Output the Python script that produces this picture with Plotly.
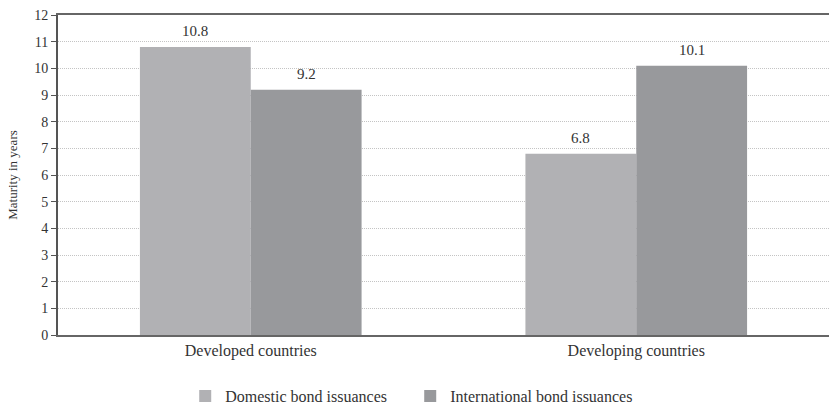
import plotly.graph_objects as go

categories = ["Developed countries", "Developing countries"]
domestic = [10.8, 6.8]
international = [9.2, 10.1]
series_names = ["Domestic bond issuances", "International bond issuances"]
y_ticks = list(range(0, 13))

font_family = "Liberation Serif"
text_col = "#333333"
fs = 15
bargap = 0.425

fig = go.Figure()
fig.add_trace(go.Bar(
    x=categories, y=domestic, name=series_names[0],
    marker=dict(color="#b1b1b4", line=dict(width=0)),
))
fig.add_trace(go.Bar(
    x=categories, y=international, name=series_names[1],
    marker=dict(color="#98999c", line=dict(width=0)),
))

# value labels above each bar (positions derived from group layout)
bar_w = (1 - bargap) / 2
annotations = []
for si, vals in enumerate([domestic, international]):
    offset = (si - 0.5) * bar_w
    for ci, v in enumerate(vals):
        annotations.append(dict(
            x=ci + offset, y=v, xref="x", yref="y", text=f"{v:.1f}",
            showarrow=False, yanchor="bottom", yshift=6,
            font=dict(size=fs, color=text_col, family=font_family),
        ))

fig.update_layout(
    width=830, height=405,
    margin=dict(l=58, r=1, t=15, b=70, autoexpand=False),
    paper_bgcolor="white", plot_bgcolor="white",
    barmode="group", bargap=bargap, bargroupgap=0,
    font=dict(family=font_family, size=fs, color=text_col),
    showlegend=True,
    legend=dict(orientation="h", x=0.165, xanchor="left", y=-0.1375, yanchor="top",
                font=dict(size=16, color=text_col, family=font_family),
                itemwidth=30, traceorder="normal",
                entrywidth=180, entrywidthmode="pixels"),
    annotations=annotations,
)
fig.update_xaxes(
    showline=True, linecolor="#666666", linewidth=2, mirror=True,
    ticks="", showgrid=False, automargin=False,
    tickfont=dict(size=16, color=text_col, family=font_family),
)
fig.update_yaxes(
    range=[0, 12], tickvals=y_ticks, showline=True, linecolor="#555555", linewidth=2,
    ticks="outside", ticklen=5, tickcolor="#555555", automargin=False,
    showgrid=True, gridcolor="#c4c4c4", griddash="1px,1px", gridwidth=1,
    zeroline=False,
    title=dict(text="Maturity in years", font=dict(size=13, color=text_col, family=font_family), standoff=14),
    tickfont=dict(size=14, color=text_col, family=font_family),
)

fig.write_html("out.html")
